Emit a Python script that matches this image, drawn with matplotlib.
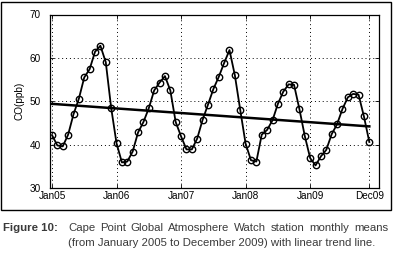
import numpy as np
import matplotlib
matplotlib.use('Agg')
import matplotlib.pyplot as plt
from matplotlib.patches import Rectangle

# monthly mean CO (ppb), Jan 2005 .. Dec 2009
co_2005 = [42.2, 39.8, 39.6, 42.3, 47.0, 50.6, 55.5, 57.4, 61.4, 62.8, 59.0, 48.5]
co_2006 = [40.3, 35.9, 36.1, 38.4, 42.8, 45.2, 48.4, 52.5, 54.3, 55.8, 52.5, 45.2]
co_2007 = [41.9, 38.9, 38.9, 41.4, 45.7, 49.2, 52.8, 55.6, 58.8, 61.8, 56.0, 48.0]
co_2008 = [40.2, 36.4, 36.1, 42.3, 43.4, 45.6, 49.4, 52.2, 53.9, 53.8, 48.2, 42.0]
co_2009 = [36.9, 35.2, 37.3, 38.8, 42.4, 44.7, 48.2, 50.9, 51.7, 51.5, 46.5, 40.6]
co = co_2005 + co_2006 + co_2007 + co_2008 + co_2009

# linear trend line as drawn (value at Jan05 and at Dec09)
trend_ends = [49.4, 44.2]

tick_months = [0, 12, 24, 36, 48, 59]
tick_labels = ['Jan05', 'Jan06', 'Jan07', 'Jan08', 'Jan09', 'Dec09']

caption_1 = 'Cape Point Global Atmosphere Watch station monthly means'
caption_2 = '(from January 2005 to December 2009) with linear trend line.'

months = np.arange(len(co))

plt.rcParams['font.family'] = ['Liberation Sans', 'DejaVu Sans']

fig = plt.figure(figsize=(3.93, 2.54), dpi=100)
ax = fig.add_axes([50/393, 1-188/254, 329/393, 173.5/254])

ax.plot(months, co, color='black', lw=1.3, marker='o', ms=4.6,
        mfc='none', mec='black', mew=1.0)
ax.plot([months[0], months[-1]], trend_ends, color='black', lw=1.8)

ax.set_xlim(-0.37, 60.8)
ax.set_ylim(30, 70)
ax.set_yticks([30, 40, 50, 60, 70])
ax.set_xticks(tick_months)
ax.set_xticklabels(tick_labels)
ax.tick_params(direction='in', length=3, width=0.6, labelsize=7.2,
               top=True, right=True, pad=2.5)
ax.tick_params(axis='y', pad=6.5)
ax.grid(True, color='black', linestyle=(0, (1, 3)), lw=0.7)
ax.set_ylabel('CO(ppb)', fontsize=7.2, labelpad=4)
for s in ax.spines.values():
    s.set_linewidth(0.9)

# frame around the chart
fig.patches.append(Rectangle((1/393, 1-210/254), 390/393, 208/254,
                             transform=fig.transFigure, fill=False,
                             lw=1.0, color='black'))

cap_col = '#3a3a3a'
cap_size = 8.2
fig.text(3/393, 1-228/254, 'Figure 10:', weight='bold',
         fontsize=cap_size, color=cap_col, va='center')

# first caption line is justified between x=68 and x=388 px
r = fig.canvas.get_renderer()
words = caption_1.split()
txts = [fig.text(0, 1-228/254, w, fontsize=cap_size, color=cap_col,
                 va='center') for w in words]
widths = [t.get_window_extent(r).width for t in txts]
gap = (388 - 68 - sum(widths)) / (len(words) - 1)
xpos = 68
for t, w in zip(txts, widths):
    t.set_x(xpos/393)
    xpos += w + gap

fig.text(68/393, 1-243/254, caption_2, fontsize=cap_size, color=cap_col,
         va='center')

fig.savefig('out.png', dpi=100)
